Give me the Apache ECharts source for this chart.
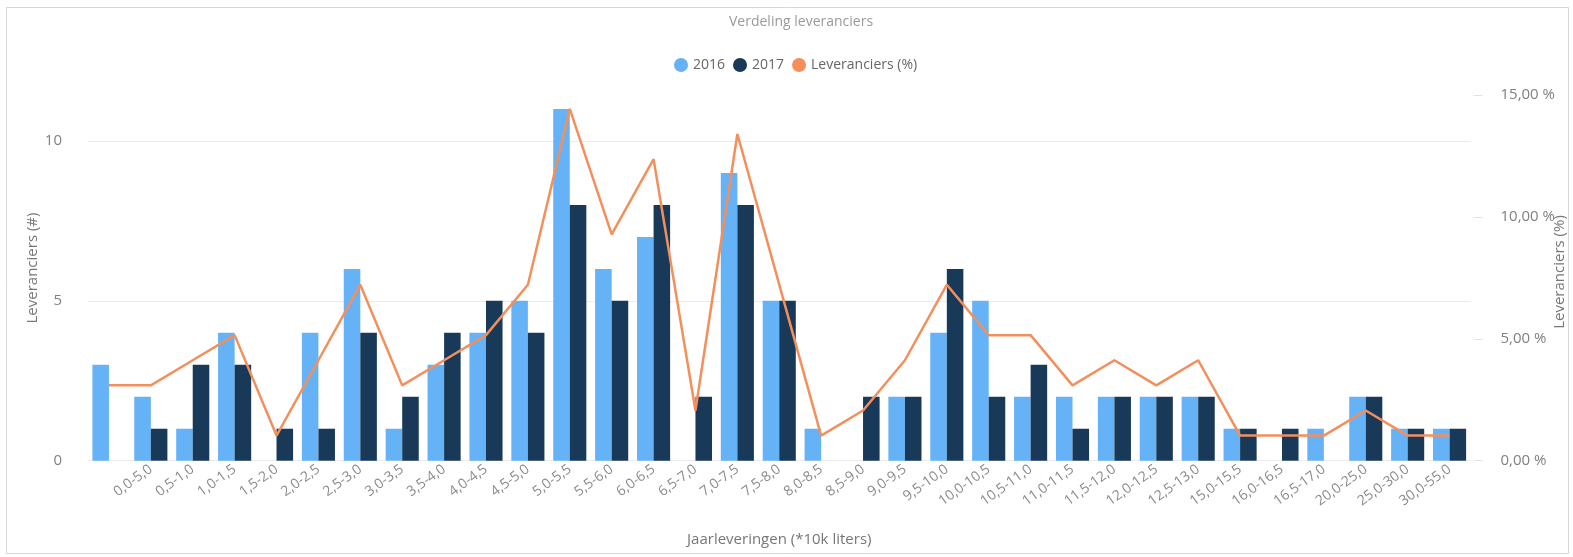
<!DOCTYPE html>
<html>
<head>
    <meta charset="utf-8">
    <title>Verdeling leveranciers</title>
    <script src="https://cdn.jsdelivr.net/npm/echarts@6/dist/echarts.min.js"></script>
    <style>
        html, body { margin: 0; padding: 0; background: #fff; }
        #chart { width: 1573px; height: 557px; }
    </style>
</head>
<body>
<div id="chart"></div>
<script>
    // klassen jaarleveringen (*10k liters), eerste klasse heeft geen label
    const categories = [
        '', '0,0-5,0', '0,5-1,0', '1,0-1,5', '1,5-2,0', '2,0-2,5', '2,5-3,0', '3,0-3,5',
        '3,5-4,0', '4,0-4,5', '4,5-5,0', '5,0-5,5', '5,5-6,0', '6,0-6,5', '6,5-7,0',
        '7,0-7,5', '7,5-8,0', '8,0-8,5', '8,5-9,0', '9,0-9,5', '9,5-10,0', '10,0-10,5',
        '10,5-11,0', '11,0-11,5', '11,5-12,0', '12,0-12,5', '12,5-13,0', '15,0-15,5',
        '16,0-16,5', '16,5-17,0', '20,0-25,0', '25,0-30,0', '30,0-55,0',
    ];
    const values2016 = [3, 2, 1, 4, 0, 4, 6, 1, 3, 4, 5, 11, 6, 7, 0, 9, 5, 1, 0, 2, 4, 5, 2, 2, 2, 2, 2, 1, 0, 1, 2, 1, 1];
    const values2017 = [0, 1, 3, 3, 1, 1, 4, 2, 4, 5, 4, 8, 5, 8, 2, 8, 5, 0, 2, 2, 6, 2, 3, 1, 2, 2, 2, 1, 1, 0, 2, 1, 1];
    const percentages = [
        3.09, 3.09, 4.12, 5.15, 1.03, 4.12, 7.22, 3.09, 4.12, 5.15, 7.22, 14.43, 9.28, 12.37, 2.06,
        13.40, 7.22, 1.03, 2.06, 4.12, 7.22, 5.15, 5.15, 3.09, 4.12, 3.09, 4.12, 1.03, 1.03, 1.03,
        2.06, 1.03, 1.03,
    ];
    const countTicks = [0, 5, 10];
    const percentTicks = [0, 5, 10, 15];

    const font = '"Open Sans", "Noto Sans", sans-serif';
    const chart = echarts.init(document.getElementById('chart'));

    // verticale asnamen als losse tekst, zodat ze precies staan
    const axisNameStyle = (text) => ({
        text: text,
        fill: '#777',
        font: '15px ' + font,
        align: 'center',
        verticalAlign: 'middle',
    });

    chart.setOption({
        animation: false,
        textStyle: { fontFamily: font },
        graphic: [
            {
                type: 'rect',
                shape: { x: 6.5, y: 7.5, width: 1562, height: 546 },
                style: { fill: 'none', stroke: '#d6d6d6', lineWidth: 1 },
                silent: true,
            },
            {
                type: 'text',
                x: 33,
                y: 268,
                rotation: Math.PI / 2,
                style: axisNameStyle('Leveranciers (#)'),
                silent: true,
            },
            {
                type: 'text',
                x: 1560,
                y: 272,
                rotation: Math.PI / 2,
                style: axisNameStyle('Leveranciers (%)'),
                silent: true,
            },
        ],
        title: {
            text: 'Verdeling leveranciers',
            left: 724,
            top: 10,
            textStyle: { fontSize: 14, fontWeight: 'normal', color: '#9a9a9a', fontFamily: font },
        },
        legend: {
            data: ['2016', '2017', 'Leveranciers (%)'],
            left: 669,
            top: 53,
            icon: 'circle',
            itemWidth: 14,
            itemHeight: 14,
            itemGap: 8,
            textStyle: { fontSize: 14, color: '#666', fontFamily: font },
        },
        grid: {
            left: 88,
            right: 102.5,
            top: 95,
            bottom: 96.3,
            outerBoundsMode: 'none',
            containLabel: false,
        },
        xAxis: {
            type: 'category',
            data: categories,
            name: 'Jaarleveringen (*10k liters)',
            nameLocation: 'middle',
            nameGap: 72,
            nameTextStyle: { fontSize: 15, color: '#777' },
            axisLine: { show: false },
            axisTick: { show: false },
            axisLabel: {
                interval: 0,
                rotate: 36,
                margin: 7,
                fontSize: 14,
                color: '#8a8a8a',
            },
        },
        yAxis: [
            {
                type: 'value',
                min: 0,
                max: 11.44,
                interval: 5,
                axisLine: { show: false },
                axisTick: { show: false },
                axisLabel: {
                    margin: 26,
                    fontSize: 15,
                    color: '#808080',
                    formatter: (v) => (countTicks.indexOf(v) >= 0 ? String(v) : ''),
                },
                splitLine: {
                    lineStyle: { color: ['#ececec', '#ececec', '#ececec', 'rgba(0,0,0,0)'], width: 1 },
                },
            },
            {
                type: 'value',
                min: 0,
                max: 15,
                interval: 5,
                position: 'right',
                offset: 3,
                axisLine: { show: false },
                axisTick: { show: true, length: 9, inside: false, lineStyle: { color: '#e2e2e2' } },
                splitLine: { show: false },
                axisLabel: {
                    margin: 27,
                    fontSize: 15,
                    color: '#808080',
                    formatter: (v) => (percentTicks.indexOf(v) >= 0 ? v.toFixed(2).replace('.', ',') + ' %' : ''),
                },
            },
        ],
        series: [
            {
                name: '2016',
                type: 'bar',
                data: values2016,
                itemStyle: { color: '#66b2f7' },
                barGap: '0%',
                barCategoryGap: '21%',
            },
            {
                name: '2017',
                type: 'bar',
                data: values2017,
                itemStyle: { color: '#183a58' },
                barGap: '0%',
                barCategoryGap: '21%',
            },
            {
                name: 'Leveranciers (%)',
                type: 'line',
                yAxisIndex: 1,
                data: percentages,
                showSymbol: false,
                symbol: 'circle',
                itemStyle: { color: '#f48f5c' },
                lineStyle: { color: '#f48f5c', width: 2.5 },
                z: 5,
            },
        ],
    });
</script>
</body>
</html>
